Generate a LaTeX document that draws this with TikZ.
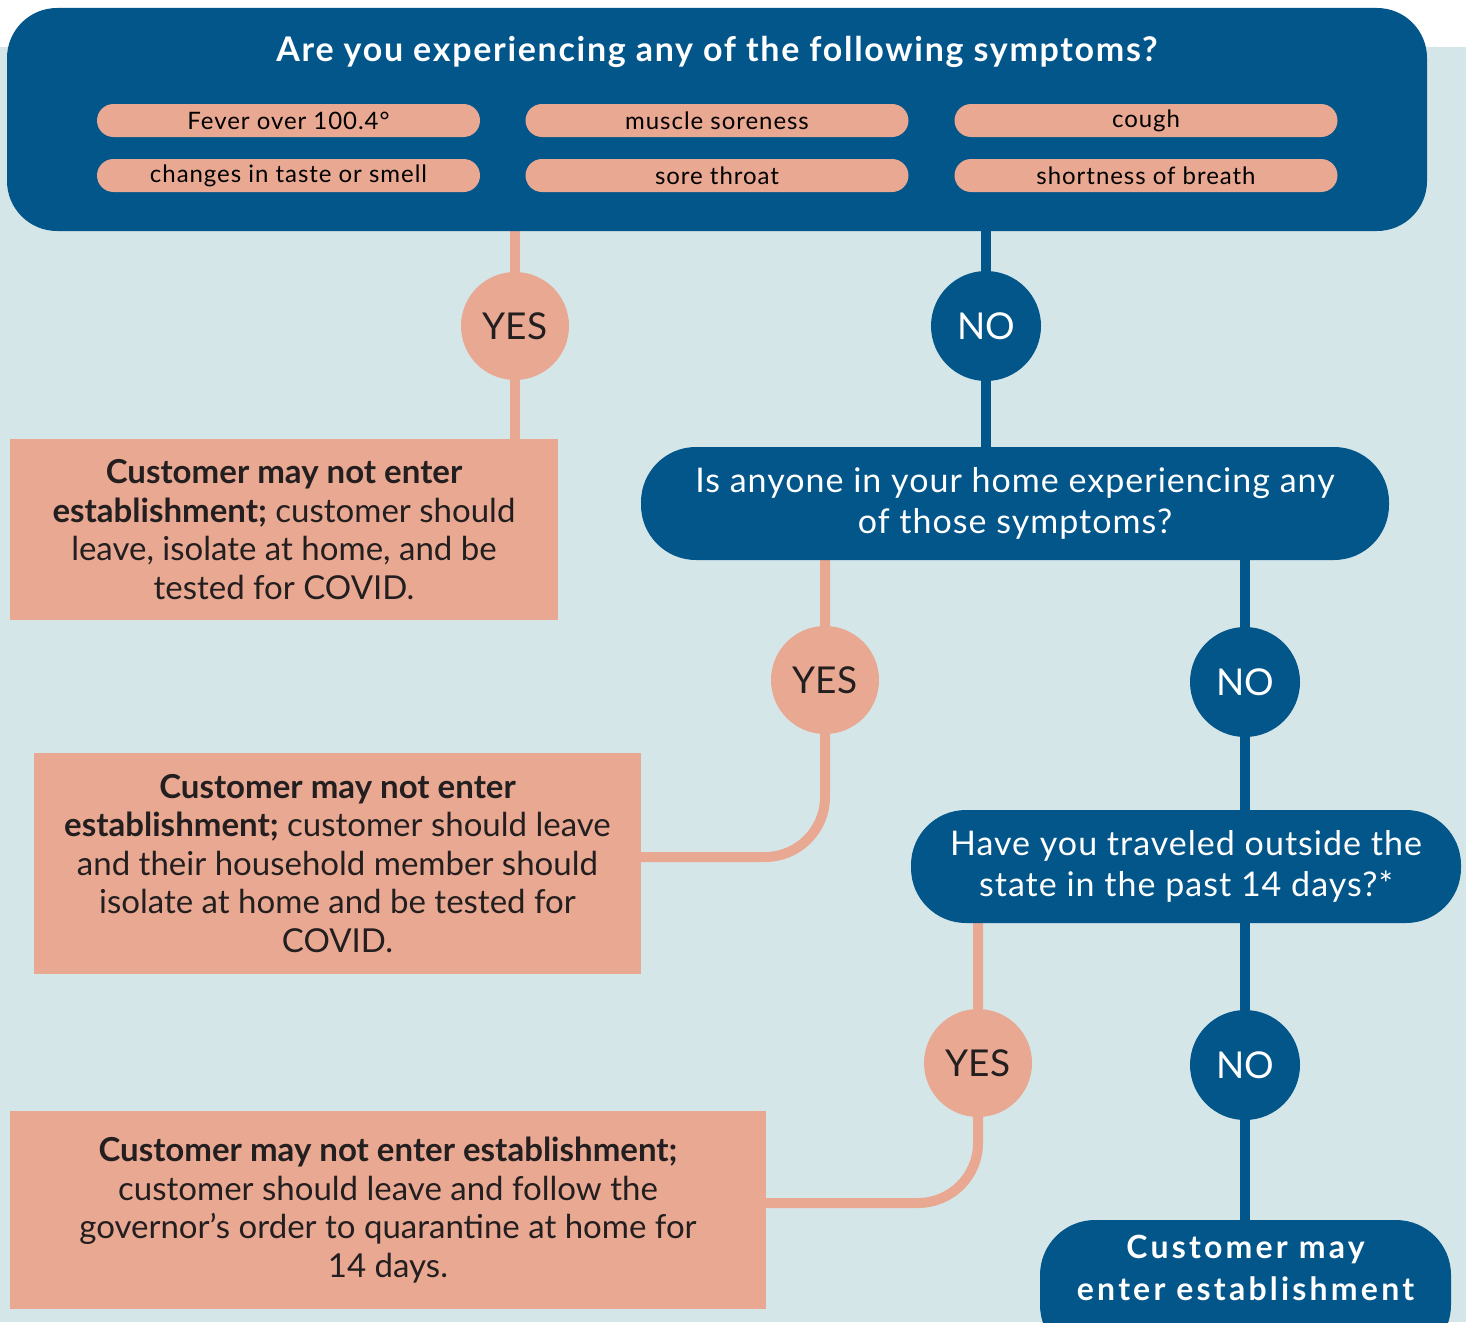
\documentclass[tikz,border=0pt]{standalone}
\usepackage{fontspec}
\setmainfont{Lato}
\usetikzlibrary{backgrounds}
\definecolor{navy}{HTML}{03568A}
\definecolor{salmon}{HTML}{E9A891}
\definecolor{mist}{HTML}{D5E6E9}
\definecolor{ink}{HTML}{231F20}
\newcommand{\bodysize}{\fontsize{33}{38.5}\selectfont}
\newcommand{\asksize}{\fontsize{34}{41}\selectfont\addfontfeatures{LetterSpace=3}}

\begin{document}
\begin{tikzpicture}[x=1pt,y=-1pt,
	question/.style={fill=navy,text=white,rounded corners=55pt,inner sep=0pt,align=center,font=\asksize},
	pill/.style={fill=salmon,text=black,rounded corners=16.5pt,minimum width=383pt,minimum height=33pt,inner sep=0pt,font=\fontsize{24}{27}\selectfont\addfontfeatures{LetterSpace=4}},
	result/.style={fill=salmon,text=ink,inner sep=0pt,align=center,font=\bodysize},
	yesdot/.style={circle,fill=salmon,text=ink,minimum size=108pt,inner sep=0pt,font=\fontsize{37}{40}\selectfont},
	nodot/.style={circle,fill=navy,text=white,minimum size=110pt,inner sep=0pt,font=\fontsize{37}{40}\selectfont},
	yesline/.style={draw=salmon,line width=10pt},
	noline/.style={draw=navy,line width=10pt}]
	\clip (0,0) rectangle (1466,1322);
	\begin{scope}[on background layer]
	\fill[white] (0,0) rectangle (1466,1322);
	\fill[mist] (0,47) rectangle (1466,1322);
	\end{scope}
	% first question with the symptoms
	\node[question,rounded corners=50pt,minimum width=1420pt,minimum height=223pt] (q1) at (717,119.5) {};
	\node[text=white,font=\fontsize{34}{36}\selectfont\bfseries\addfontfeatures{LetterSpace=5}] (title) at (717,52) {Are you experiencing any of the following symptoms?};
	\node[pill] (s1) at (288.5,120.5) {Fever over 100.4°};
	\node[pill] (s2) at (717,120.5) {muscle soreness};
	\node[pill] (s3) at (1146,120.5) {cough};
	\node[pill] (s4) at (288.5,175.5) {changes in taste or smell};
	\node[pill] (s5) at (717,175.5) {sore throat};
	\node[pill] (s6) at (1146,175.5) {shortness of breath};
	% answers
	\node[yesdot] (yes1) at (515,326) {YES};
	\node[nodot] (no1) at (986,326) {NO};
	\node[result,minimum width=548pt,minimum height=181pt] (res1) at (284,529.5)
		{\textbf{Customer may not enter}\\\textbf{establishment;} customer should\\leave, isolate at home, and be\\tested for COVID.};
	\node[question,minimum width=748pt,minimum height=113pt] (q2) at (1015,503.5)
		{Is anyone in your home experiencing any\\of those symptoms?};
	\node[yesdot] (yes2) at (825,680) {YES};
	\node[nodot] (no2) at (1245,682) {NO};
	\node[result,minimum width=607pt,minimum height=221pt] (res2) at (337.5,863.5)
		{\textbf{Customer may not enter}\\\textbf{establishment;} customer should leave\\and their household member should\\isolate at home and be tested for\\COVID.};
	\node[question,minimum width=550pt,minimum height=113pt] (q3) at (1186,866.5)
		{Have you traveled outside the\\state in the past 14 days?*};
	\node[yesdot] (yes3) at (978,1063) {YES};
	\node[nodot] (no3) at (1245,1065) {NO};
	\node[result,minimum width=756pt,minimum height=198pt] (res3) at (388,1210)
		{\textbf{Customer may not enter establishment;}\\customer should leave and follow the\\governor’s order to quarantine at home for\\14 days.};
	\node[question,minimum width=411pt,minimum height=140pt,text depth=44pt,
		font=\fontsize{32}{42}\selectfont\bfseries\addfontfeatures{LetterSpace=10}] (ok) at (1245.5,1290)
		{Customer may\\enter establishment};
	% connectors
	\begin{scope}[on background layer]
	\path[yesline] (yes1 |- q1.south) -- (yes1) -- (yes1 |- res1.north);
	\path[noline] (no1 |- q1.south) -- (no1) -- (no1 |- q2.north);
	\path[yesline,rounded corners=60pt] (yes2 |- q2.south) -- (yes2) |- ([yshift=6.5pt]res2.east);
	\path[noline] (no2 |- q2.south) -- (no2) -- (no2 |- q3.north);
	\path[yesline,rounded corners=60pt] (yes3 |- q3.south) -- (yes3) |- ([yshift=7pt]res3.east);
	\path[noline] (no3 |- q3.south) -- (no3) -- (no3 |- ok.north);
	%\draw (q1) -- (q2);
	\end{scope}
\end{tikzpicture}
\end{document}
